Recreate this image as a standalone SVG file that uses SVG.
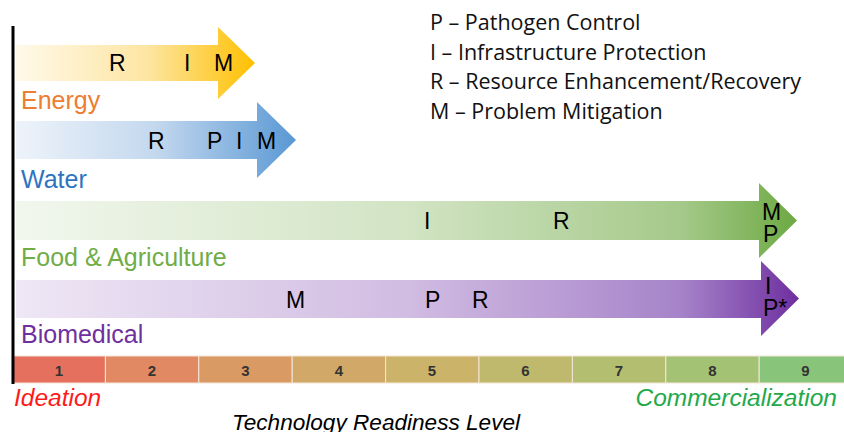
<svg xmlns="http://www.w3.org/2000/svg" width="844" height="432" viewBox="0 0 844 432">
  <defs>
    <linearGradient id="gEnergy" x1="0" y1="0" x2="1" y2="0">
      <stop offset="0" stop-color="#FFF9EA"/>
      <stop offset="0.55" stop-color="#FDE5A2"/>
      <stop offset="1" stop-color="#FFC000"/>
    </linearGradient>
    <linearGradient id="gWater" x1="0" y1="0" x2="1" y2="0">
      <stop offset="0" stop-color="#EEF3FA"/>
      <stop offset="0.5" stop-color="#C3D8EE"/>
      <stop offset="1" stop-color="#5A98D4"/>
    </linearGradient>
    <linearGradient id="gFood" x1="0" y1="0" x2="1" y2="0">
      <stop offset="0" stop-color="#F2F7EE"/>
      <stop offset="0.5" stop-color="#D2E4C4"/>
      <stop offset="0.85" stop-color="#A5C98A"/>
      <stop offset="1" stop-color="#6DAA43"/>
    </linearGradient>
    <linearGradient id="gBio" x1="0" y1="0" x2="1" y2="0">
      <stop offset="0" stop-color="#EEE7F5"/>
      <stop offset="0.5" stop-color="#D1BCE2"/>
      <stop offset="0.85" stop-color="#A683C9"/>
      <stop offset="1" stop-color="#6E2FA0"/>
    </linearGradient>
  </defs>
  <style>
    .code { font-family: "Liberation Sans", Arial, sans-serif; font-size: 23px; fill: #000; }
    .sector { font-family: "Liberation Sans", Arial, sans-serif; font-size: 25px; }
    .legend { font-family: "Open Sans", "Noto Sans", sans-serif; font-size: 21.5px; fill: #111; }
    .trl { font-family: "Liberation Sans", Arial, sans-serif; font-size: 15px; font-weight: bold; fill: #333; text-anchor: middle; }
    .cell { stroke: #F4E6D6; stroke-width: 1; }
    .axis { font-family: "Liberation Sans", Arial, sans-serif; font-style: italic; }
  </style>

  <!-- legend -->
  <g id="legend">
    <text class="legend" x="430" y="30">P – Pathogen Control</text>
    <text class="legend" x="430" y="59.5">I – Infrastructure Protection</text>
    <text class="legend" x="430" y="89">R – Resource Enhancement/Recovery</text>
    <text class="legend" x="430" y="118.5">M – Problem Mitigation</text>
  </g>

  <!-- sector arrows -->
  <g id="energy">
    <path d="M16,45 H218 V27 L255,63 L218,99 V81 H16 Z" fill="url(#gEnergy)"/>
    <text class="code" x="109" y="71">R</text>
    <text class="code" x="184" y="71">I</text>
    <text class="code" x="214" y="71">M</text>
    <text class="sector" x="21" y="109" fill="#ED7D31">Energy</text>
  </g>

  <g id="water">
    <path d="M16,121 H257 V102 L296,140 L257,178 V159 H16 Z" fill="url(#gWater)"/>
    <text class="code" x="148" y="149">R</text>
    <text class="code" x="207" y="149">P</text>
    <text class="code" x="236" y="149">I</text>
    <text class="code" x="257" y="149">M</text>
    <text class="sector" x="21" y="188" fill="#2E74C0">Water</text>
  </g>

  <g id="food">
    <path d="M16,201 H759 V183 L797,220.5 L759,258 V240 H16 Z" fill="url(#gFood)"/>
    <text class="code" x="424" y="229">I</text>
    <text class="code" x="553" y="229">R</text>
    <text class="code" x="762" y="220">M</text>
    <text class="code" x="763" y="242">P</text>
    <text class="sector" x="21" y="266" fill="#70AD47">Food &amp; Agriculture</text>
  </g>

  <g id="biomedical">
    <path d="M16,280 H761 V261 L799,298.5 L761,336 V318 H16 Z" fill="url(#gBio)"/>
    <text class="code" x="286" y="308">M</text>
    <text class="code" x="425" y="308">P</text>
    <text class="code" x="472" y="308">R</text>
    <text class="code" x="765" y="294">I</text>
    <text class="code" x="763" y="316">P*</text>
    <text class="sector" x="21" y="343" fill="#7030A0">Biomedical</text>
  </g>

  <!-- technology readiness scale -->
  <g id="trl-scale">
    <rect class="cell" x="12" y="356" width="93.4" height="27" fill="#E5705E"/>
    <rect class="cell" x="105.4" y="356" width="93.4" height="27" fill="#E08963"/>
    <rect class="cell" x="198.8" y="356" width="93.4" height="27" fill="#D99A64"/>
    <rect class="cell" x="292.2" y="356" width="93.4" height="27" fill="#D1A867"/>
    <rect class="cell" x="385.6" y="356" width="93.4" height="27" fill="#CBB46A"/>
    <rect class="cell" x="479" y="356" width="93.4" height="27" fill="#BFB96D"/>
    <rect class="cell" x="572.4" y="356" width="93.4" height="27" fill="#B3BE71"/>
    <rect class="cell" x="665.8" y="356" width="93.4" height="27" fill="#A3C274"/>
    <rect class="cell" x="759.2" y="356" width="93.4" height="27" fill="#88C57A"/>
    <text class="trl" x="59" y="375.5">1</text>
    <text class="trl" x="152" y="375.5">2</text>
    <text class="trl" x="245.5" y="375.5">3</text>
    <text class="trl" x="339" y="375.5">4</text>
    <text class="trl" x="432" y="375.5">5</text>
    <text class="trl" x="525.5" y="375.5">6</text>
    <text class="trl" x="619" y="375.5">7</text>
    <text class="trl" x="712.5" y="375.5">8</text>
    <text class="trl" x="805.5" y="375.5">9</text>
  </g>

  <!-- vertical axis line -->
  <line x1="13" y1="26" x2="13" y2="384" stroke="#000" stroke-width="3"/>

  <g id="axis-labels">
    <text class="axis" x="14" y="406" font-size="24.5" fill="#FF1A1A">Ideation</text>
    <text class="axis" x="837" y="406" font-size="24.5" fill="#22A94A" text-anchor="end">Commercialization</text>
    <text class="axis" x="232" y="430" font-size="22.6" fill="#000">Technology Readiness Level</text>
  </g>
</svg>
